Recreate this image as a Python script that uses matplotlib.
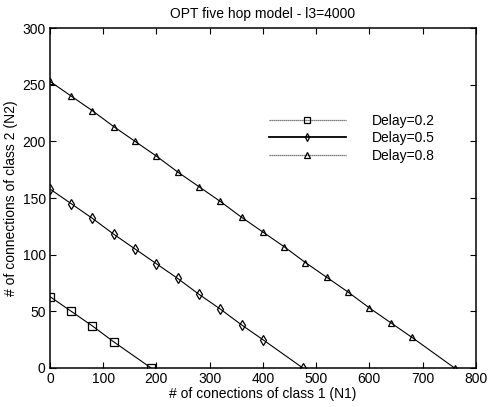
import numpy as np
from matplotlib import pyplot as plt
from matplotlib.lines import Line2D

plt.rcParams['font.family'] = ['Liberation Sans', 'DejaVu Sans']

# Delay=0.2
x1 = [0, 40, 80, 120, 190]
y1 = [63, 50, 37, 23, 0]
# Delay=0.5
x2 = [0, 40, 80, 120, 160, 200, 240, 280, 320, 360, 400, 475]
y2 = [158, 145, 132, 118, 105, 92, 79, 65, 52, 38, 25, 0]
# Delay=0.8
x3 = [0, 40, 80, 120, 160, 200, 240, 280, 320, 360, 400, 440, 480, 520, 560, 600, 640, 680, 760]
y3 = [253, 240, 227, 213, 200, 187, 173, 160, 147, 133, 120, 107, 93, 80, 67, 53, 40, 27, 0]

labels = ["Delay=0.2", "Delay=0.5", "Delay=0.8"]

fig = plt.figure(figsize=(4.89, 4.07), dpi=100)
ax = fig.add_axes([0.102, 0.096, 0.871, 0.835])

ax.plot(x1, y1, color="black", lw=0.8, marker="s", ms=6, mfc="none", mew=0.9)
ax.plot(x2, y2, color="black", lw=0.8, marker="d", ms=5, mfc="none", mew=0.9)
ax.plot(x3, y3, color="black", lw=0.8, marker="^", ms=5, mfc="none", mew=0.9)

# legend lines as in the scan: 0.2 and 0.8 look lighter
handles = [
    Line2D([], [], color="#555555", lw=0.9, ls=(0, (1, 0.6)), marker="s", ms=5, mfc="none", mec="black", mew=0.9),
    Line2D([], [], color="black", lw=1.3, marker="d", ms=4, mfc="none", mec="black", mew=0.9),
    Line2D([], [], color="#555555", lw=0.9, ls=(0, (1, 0.6)), marker="^", ms=5, mfc="none", mec="black", mew=0.9),
]

ax.set_xlim(0, 800)
ax.set_ylim(0, 300)
ax.set_xticks(np.arange(0, 801, 100))
ax.set_yticks(np.arange(0, 301, 50))
ax.tick_params(direction="in", top=True, right=True, labelsize=10, length=4, width=0.8, pad=3)
for s in ax.spines.values():
    s.set_linewidth(1.1)

ax.legend(handles, labels, loc="upper left", bbox_to_anchor=(0.484, 0.785), frameon=False, fontsize=10,
          handlelength=5.6, handletextpad=1.85, labelspacing=0.25)

ax.set_title("OPT five hop model - l3=4000", fontsize=10, pad=7)
ax.set_xlabel("# of conections of class 1 (N1)", fontsize=10, labelpad=1)
ax.set_ylabel("# of connections of class 2 (N2)", fontsize=10, labelpad=3)

plt.savefig("out.png", dpi=100)
